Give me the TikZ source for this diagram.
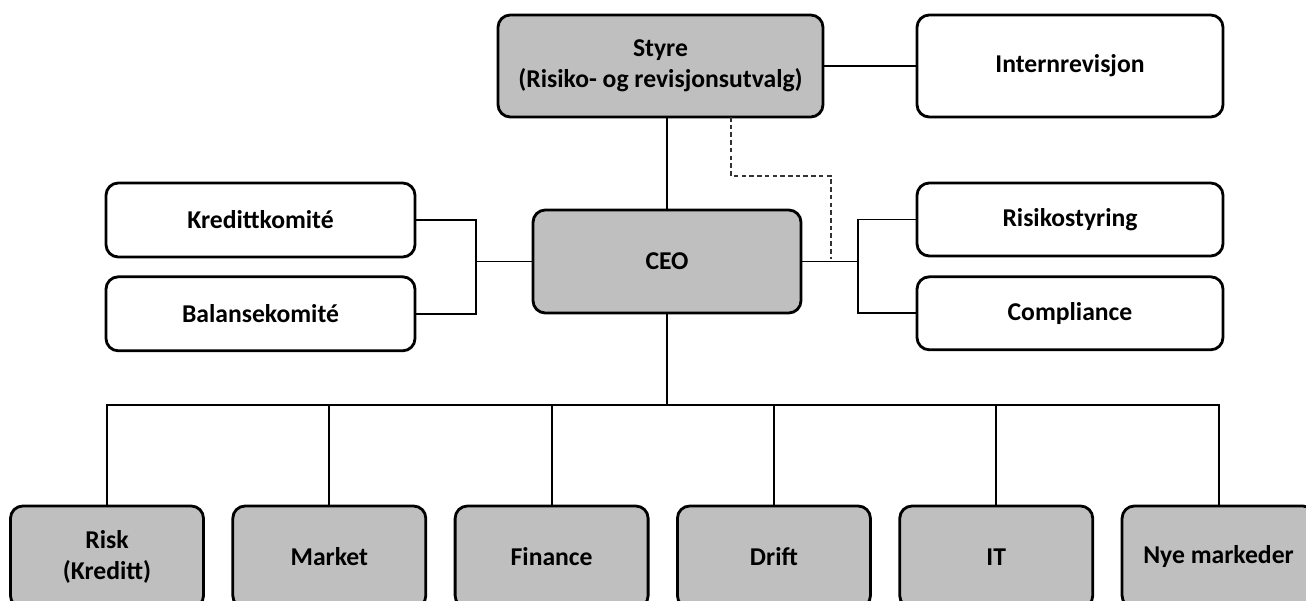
\documentclass[tikz,border=0pt]{standalone}
\usepackage{fontspec}
\setmainfont{Carlito}
\usetikzlibrary{positioning}

\definecolor{boxgray}{RGB}{191,191,191}

\begin{document}
\begin{tikzpicture}[
  unit/.style={rectangle, draw, line width=1.6pt, rounded corners=7pt,
    align=center, font=\bfseries\fontsize{14.6}{17.5}\selectfont},
  lead/.style={unit, fill=boxgray},
  staff/.style={unit, fill=white},
  dept/.style={lead, minimum width=3.86cm, minimum height=2.04cm},
  conn/.style={line width=1.1pt},
  dotted link/.style={line width=1.2pt, draw=black!80, dash pattern=on 2.6pt off 1.8pt}
]
\useasboundingbox (0,0) rectangle (26.12,-12.02);
\clip (0,0) rectangle (26.12,-12.02);

% top level
\node[lead, minimum width=6.5cm, minimum height=2.04cm] (styre) at (13.21,-1.32)
  {Styre\\(Risiko- og revisjonsutvalg)};
\node[staff, minimum width=6.12cm, minimum height=2.04cm] (intrev) at (21.4,-1.32) {Internrevisjon};
\node[lead, minimum width=5.36cm, minimum height=2.06cm] (ceo) at (13.34,-5.23) {CEO};

% committees and control functions
\node[staff, minimum width=6.18cm, minimum height=1.48cm] (kreditt) at (5.21,-4.4) {Kredittkomité};
\node[staff, minimum width=6.18cm, minimum height=1.48cm, below=0.34cm of kreditt] (balanse) {Balansekomité};
\node[staff, minimum width=6.12cm, minimum height=1.46cm] (risiko) at (21.4,-4.39) {Risikostyring};
\node[staff, minimum width=6.12cm, minimum height=1.46cm, below=0.36cm of risiko] (compl) {Compliance};

% business units
\node[dept] (risk) at (2.14,-11.14) {Risk\\(Kreditt)};
\node[dept, right=0.53cm of risk]    (market)  {Market};
\node[dept, right=0.53cm of market]  (finance) {Finance};
\node[dept, right=0.53cm of finance] (drift)   {Drift};
\node[dept, right=0.53cm of drift]   (it)      {IT};
\node[dept, right=0.53cm of it]      (nye)     {Nye markeder};

\coordinate (bus) at (0,-8.1);
\coordinate (lbrk) at (9.52,0);
\coordinate (rbrk) at (17.16,0);

\draw[conn] (styre) -- (intrev);
\draw[conn] (ceo.north) -- (ceo.north |- styre.south);
\draw[dotted link] (14.62,-2.34) |- (16.62,-3.52) -- (16.62,-5.18);

\draw[conn] (ceo.west) -- (lbrk |- ceo.west);
\draw[conn] (kreditt.east) -| (lbrk |- ceo.west) |- (balanse.east);
\draw[conn] (ceo.east) -- (rbrk |- ceo.east);
\draw[conn] (risiko.west) -| (rbrk |- ceo.east) |- (compl.west);

\draw[conn] (ceo.south) -- (ceo.south |- bus);
\draw[conn] (risk.north) |- (bus -| nye.north) -- (nye.north);
\draw[conn] (market.north)  -- (market.north |- bus);
\draw[conn] (finance.north) -- (finance.north |- bus);
\draw[conn] (drift.north)   -- (drift.north |- bus);
\draw[conn] (it.north)      -- (it.north |- bus);
\end{tikzpicture}
\end{document}
